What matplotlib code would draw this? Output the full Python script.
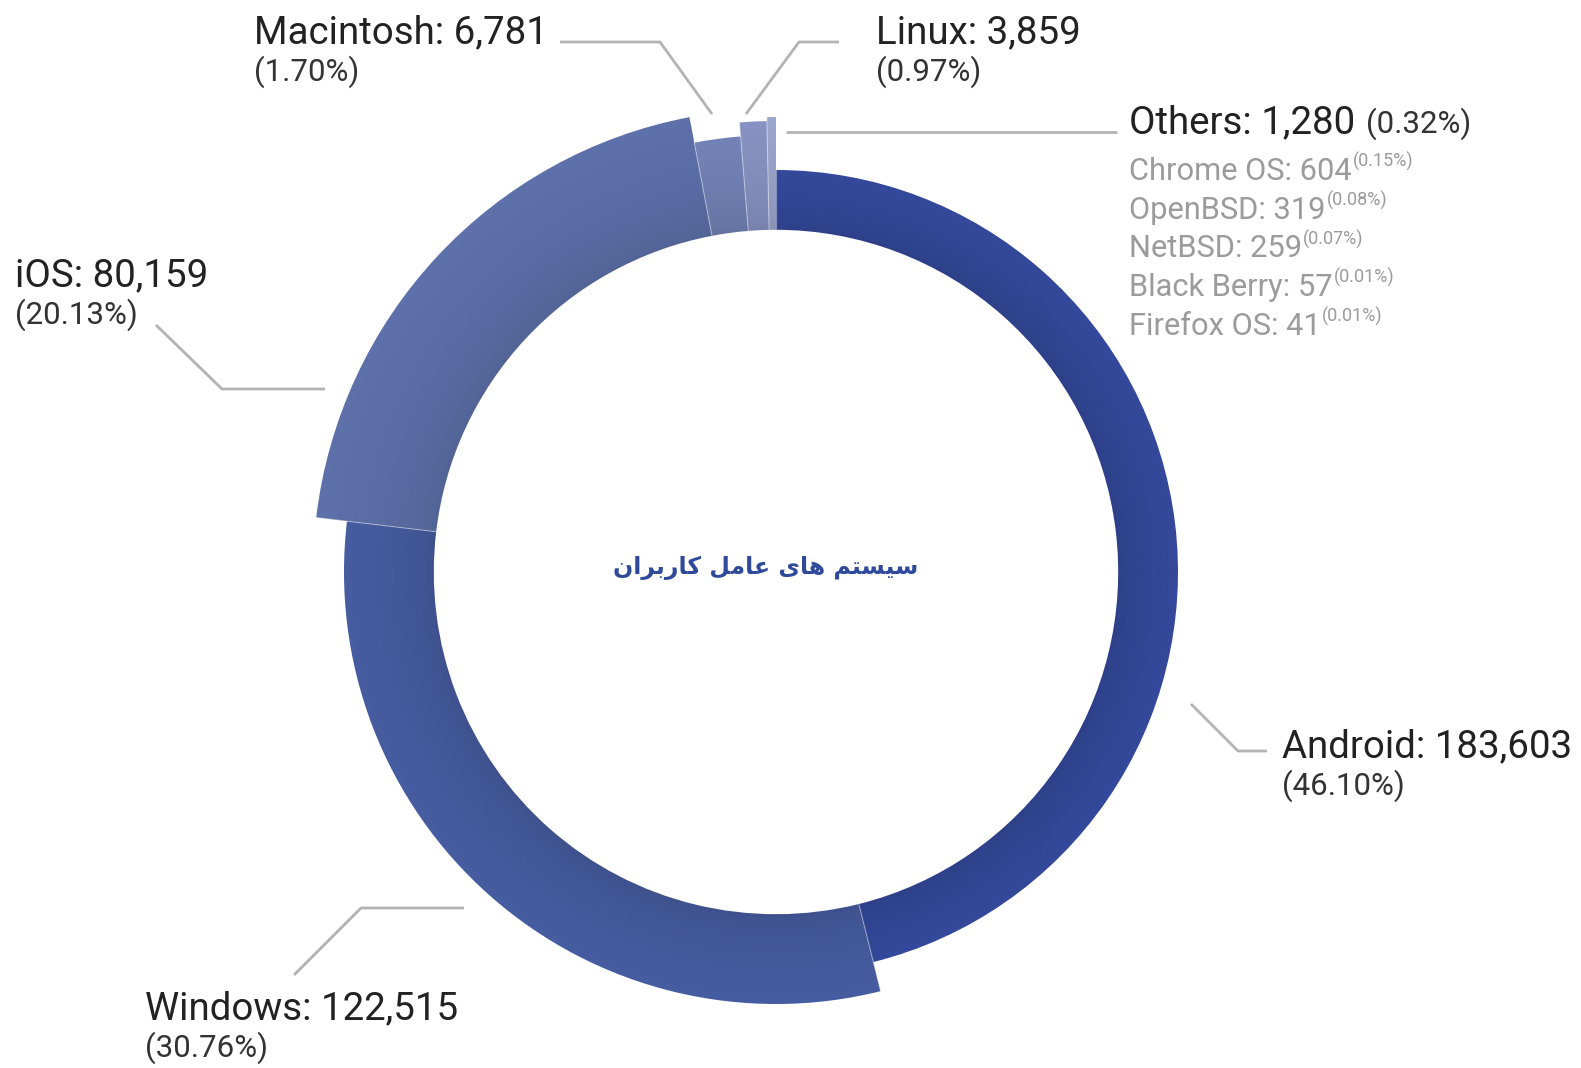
import matplotlib
matplotlib.use("Agg")
import matplotlib.pyplot as plt
from matplotlib.patches import Wedge
import numpy as np

# data
os_names = ["Android", "Windows", "iOS", "Macintosh", "Linux", "Others"]
os_users = [183603, 122515, 80159, 6781, 3859, 1280]
os_pct = [46.10, 30.76, 20.13, 1.70, 0.97, 0.32]
other_names = ["Chrome OS", "OpenBSD", "NetBSD", "Black Berry", "Firefox OS"]
other_users = [604, 319, 259, 57, 41]
other_pct = [0.15, 0.08, 0.07, 0.01, 0.01]
title = "سیستم های عامل کاربران"

# style
outer_r = [402, 432, 463, 437, 451, 455]
colors = ["#33489a", "#465ca0", "#5d70aa", "#7282b6", "#8693c2", "#9ba6cd"]
cx, cy, inner_r = 776, 572, 343

plt.rcParams['font.family'] = ['Roboto', 'DejaVu Sans']

fig = plt.figure(figsize=(15.81, 10.68), dpi=100)
ax = fig.add_axes([0, 0, 1, 1])
ax.set_xlim(0, 1581)
ax.set_ylim(1068, 0)
ax.axis('off')


def shade(c, f):
    c = np.array(matplotlib.colors.to_rgb(c))
    return tuple(c * f)


# ring slices, clockwise from 12 o'clock, a bit darker towards the hole
total = sum(os_users)
start = 0.0
for val, r, col in zip(os_users, outer_r, colors):
    span = 360.0 * val / total
    nb = 40
    edges = np.linspace(inner_r, r, nb + 1)
    for i in range(nb):
        f = 0.88 + 0.12 * (i / (nb - 1)) ** 0.6
        ax.add_patch(Wedge((cx, cy), edges[i + 1], start - 90, start + span - 90,
                           width=edges[i + 1] - edges[i] + 0.8, color=shade(col, f), lw=0))
    # faint separator on the leading edge
    a = np.radians(start - 90)
    ax.plot([cx + inner_r * np.cos(a), cx + r * np.cos(a)],
            [cy + inner_r * np.sin(a), cy + r * np.sin(a)],
            color=(1, 1, 1, 0.4), lw=0.8)
    start += span

# leader lines
lc = "#b3b3b3"
lines = [
    [(1191, 704), (1238, 751), (1267, 751)],
    [(294, 975), (361, 908), (464, 908)],
    [(156, 325), (222, 389), (325, 389)],
    [(712, 114), (660, 42), (560, 42)],
    [(746, 114), (799, 42), (839, 42)],
    [(786, 132), (1117, 132)],
]
for pts in lines:
    xs, ys = zip(*pts)
    ax.plot(xs, ys, color=lc, lw=2, solid_capstyle='butt')

main_fs = 27.7
pct_fs = 22.5
lab_pos = {"Android": (1282, 757), "Windows": (145, 1019), "iOS": (15, 286),
           "Macintosh": (254, 43), "Linux": (876, 43)}
for name, val, p in zip(os_names, os_users, os_pct):
    if name not in lab_pos:
        continue
    x, y = lab_pos[name]
    ax.text(x, y, f"{name}: {val:,}", fontsize=main_fs, color="#222222", va='baseline')
    ax.text(x, y + 38, f"({p:.2f}%)", fontsize=pct_fs, color="#333333", va='baseline')

renderer = fig.canvas.get_renderer()
inv = ax.transData.inverted()
t = ax.text(1129, 133, f"Others: {os_users[5]:,}", fontsize=main_fs, color="#222222", va='baseline')
bb = t.get_window_extent(renderer)
xe = inv.transform((bb.x1, bb.y0))[0]
ax.text(xe + 11, 133, f"({os_pct[5]:.2f}%)", fontsize=pct_fs, color="#333333", va='baseline')

sub_fs = 22.2
for i, (n, v, p) in enumerate(zip(other_names, other_users, other_pct)):
    y = 180 + i * 38.7
    t = ax.text(1129, y, f"{n}: {v}", fontsize=sub_fs, color="#9b9b9b", va='baseline')
    bb = t.get_window_extent(renderer)
    xe = inv.transform((bb.x1, bb.y0))[0]
    ax.text(xe + 1, y - 13, f"({p:.2f}%)", fontsize=13, color="#9b9b9b", va='baseline')


# centre title: Persian text, joined with presentation forms
forms = {
    '\u0633': ('\uFEB1', '\uFEB2', '\uFEB3', '\uFEB4'),
    '\u06CC': ('\uFBFC', '\uFBFD', '\uFBFE', '\uFBFF'),
    '\u062A': ('\uFE95', '\uFE96', '\uFE97', '\uFE98'),
    '\u0645': ('\uFEE1', '\uFEE2', '\uFEE3', '\uFEE4'),
    '\u0647': ('\uFEE9', '\uFEEA', '\uFEEB', '\uFEEC'),
    '\u0639': ('\uFEC9', '\uFECA', '\uFECB', '\uFECC'),
    '\u0644': ('\uFEDD', '\uFEDE', '\uFEDF', '\uFEE0'),
    '\u06A9': ('\uFB8E', '\uFB8F', '\uFB90', '\uFB91'),
    '\u0628': ('\uFE8F', '\uFE90', '\uFE91', '\uFE92'),
    '\u0646': ('\uFEE5', '\uFEE6', '\uFEE7', '\uFEE8'),
    '\u0627': ('\uFE8D', '\uFE8E', None, None),
    '\u0631': ('\uFEAD', '\uFEAE', None, None),
}


def shape(s):
    out = []
    for i, ch in enumerate(s):
        if ch not in forms:
            out.append(ch)
            continue
        prev = s[i - 1] if i > 0 else ' '
        nxt = s[i + 1] if i + 1 < len(s) else ' '
        jp = prev in forms and forms[prev][2] is not None
        jn = forms[ch][2] is not None and nxt in forms
        f = forms[ch]
        if jp and jn:
            out.append(f[3])
        elif jp:
            out.append(f[1])
        elif jn:
            out.append(f[2])
        else:
            out.append(f[0])
    return ''.join(out[::-1])


ax.text(766, 568, shape(title), fontsize=17, fontweight='bold', color="#2f4a9a",
        ha='center', va='center', family=['DejaVu Sans'])

fig.savefig("out.png", dpi=100)
